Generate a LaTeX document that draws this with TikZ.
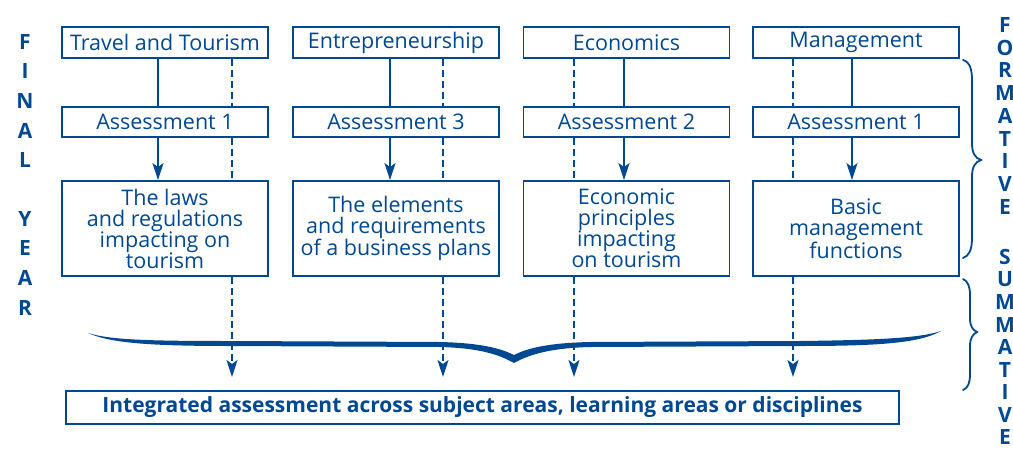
\documentclass[tikz,border=0pt]{standalone}
\usepackage{fontspec}
\setmainfont{Open Sans}
\usetikzlibrary{arrows.meta}
\definecolor{db}{RGB}{0,72,145}
\begin{document}
\begin{tikzpicture}[x=1pt,y=-1pt,
  box/.style={draw=db, line width=1.8pt, text=db, inner sep=0pt, align=center,
    minimum width=206pt, font=\fontsize{21.5}{21}\selectfont},
  subj/.style={box, minimum height=31pt},
  asmt/.style={box, minimum height=30pt},
  topic/.style={box, minimum height=95pt},
  solidln/.style={draw=db, line width=1.8pt},
  dashln/.style={draw=db, line width=1.8pt, dash pattern=on 7pt off 4pt},
  tip/.style={-{Stealth[length=17pt,width=11pt,inset=4pt]}},
  letter/.style={text=db, inner sep=0pt, font=\fontsize{21}{21}\selectfont\bfseries},
]
\useasboundingbox (0,0) rectangle (1013,453);

% subject row
\node[subj] (t1) at (165,42.5) {Travel and Tourism};
\node[subj] (t2) at (396,42.5) {Entrepreneurship};
\node[subj] (t3) at (626.5,42.5) {Economics};
\node[subj] (t4) at (856,42.5) {Management};
% assessment row
\node[asmt] (a1) at (165,122) {Assessment 1};
\node[asmt] (a2) at (396,122) {Assessment 3};
\node[asmt] (a3) at (626.5,122) {Assessment 2};
\node[asmt] (a4) at (856,122) {Assessment 1};
% topic row
\node[topic] (c1) at (165,228.5) {The laws\\and regulations\\impacting on\\tourism};
\node[topic] (c2) at (396,228.5) {The elements\\and requirements\\of a business plans};
\node[topic] (c3) at (626.5,228.5) {Economic\\principles\\impacting\\on tourism};
\node[topic] (c4) at (856,228.5) {Basic\\management\\functions};

% bottom box
\node[draw=db, line width=1.8pt, text=db, inner sep=0pt, minimum width=833pt, minimum height=33pt,
  font=\fontsize{21}{21}\selectfont\bfseries] (ia) at (482.5,407.5)
  {Integrated assessment across subject areas, learning areas or disciplines};

% connectors
\foreach \i/\d/\s in {1/232/158, 2/443/390, 3/574/624, 4/793/852}{
  \coordinate (e\i) at (\d,377);
  \draw[solidln] (t\i.south -| \s,0) -- (a\i.north -| \s,0);
  \draw[solidln, tip] (a\i.south -| \s,0) -- (c\i.north -| \s,0);
  \draw[dashln] (t\i.south -| \d,0) -- (a\i.north -| \d,0);
  \draw[dashln] (a\i.south -| \d,0) -- (c\i.north -| \d,0);
  \draw[dashln, tip] (c\i.south -| \d,0) -- (e\i);
}

% horizontal brace (filled, tapered)
\fill[db] (88,333) .. controls (110,340) and (150,341) .. (230,341) -- (440,342)
  .. controls (480,343) and (500,348) .. (514,355)
  .. controls (528,348) and (548,343) .. (590,342) -- (800,341)
  .. controls (880,340) and (920,338) .. (941,331)
  .. controls (920,343) and (880,346) .. (800,346) -- (590,347)
  .. controls (552,348) and (530,354) .. (514,363)
  .. controls (498,354) and (478,348) .. (440,347) -- (230,346)
  .. controls (150,346) and (110,343) .. (88,333) -- cycle;

% right braces
\draw[solidln, line cap=round] (963,60) .. controls (970,62) and (972,70) .. (972,80) -- (972,143)
  .. controls (972,153) and (975,158) .. (981,160)
  .. controls (975,162) and (972,167) .. (972,177) -- (972,238)
  .. controls (972,250) and (969,256) .. (963,258);
\draw[solidln, line cap=round] (963,279) .. controls (968,281) and (970,287) .. (970,295) -- (970,318)
  .. controls (970,327) and (973,330) .. (977,332)
  .. controls (973,334) and (970,338) .. (970,346) -- (970,374)
  .. controls (970,383) and (968,388) .. (963,390);

% FINAL YEAR
\foreach \l/\y in {F/42, I/71.5, N/101, A/130.5, L/160, Y/219, E/248.5, A/278, R/307.5}
  \node[letter] at (25,\y) {\l};
% FORMATIVE
\foreach \l/\y in {F/25, O/47.75, R/70.5, M/93.25, A/116, T/138.75, I/161.5, V/184.25, E/207}
  \node[letter] at (1005,\y) {\l};
% SUMMATIVE
\foreach \l/\y in {S/257, U/279.5, M/302, M/324.5, A/347, T/369.5, I/392, V/414.5, E/437}
  \node[letter] at (1005,\y) {\l};
\end{tikzpicture}
\end{document}
